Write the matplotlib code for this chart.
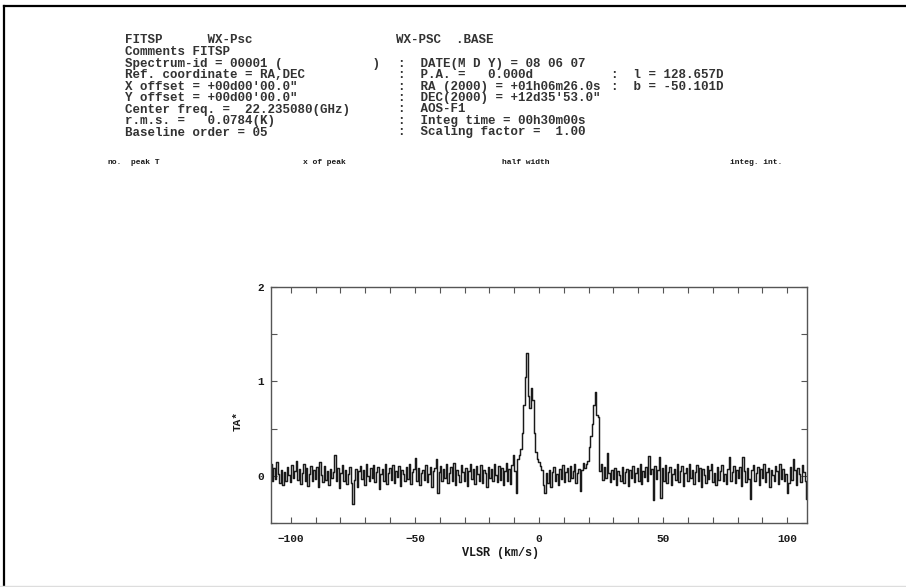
import matplotlib
matplotlib.use('Agg')
import matplotlib.pyplot as plt
import numpy as np
from matplotlib.ticker import MultipleLocator

# spectrum: velocity grid (km/s) and antenna temperature TA* (K)
v_start = -108.0
v_step = 0.6
ta = [
    0.12, -0.05, 0.08, -0.03, 0.15, 0.02, -0.08, 0.06, -0.10, 0.04,
    -0.06, 0.09, 0.01, -0.07, 0.11, -0.02, 0.05, 0.16, -0.04, 0.07,
    -0.09, 0.03, 0.12, -0.06, 0.08, -0.11, 0.02, 0.10, -0.05, 0.06,
    -0.03, 0.09, -0.12, 0.15, 0.01, -0.07, 0.10, -0.04, 0.05, -0.10,
    0.07, -0.02, 0.04, 0.22, -0.06, 0.08, -0.13, 0.03, 0.11, -0.05,
    0.06, -0.09, 0.02, 0.09, -0.08, -0.30, -0.04, 0.07, -0.12, 0.05,
    0.10, -0.03, 0.06, -0.10, 0.13, 0.00, -0.06, 0.08, -0.02, 0.11,
    -0.07, 0.04, 0.09, -0.14, 0.02, 0.07, -0.05, 0.12, -0.09, 0.03,
    0.08, -0.04, 0.11, -0.08, 0.05, -0.01, 0.10, -0.11, 0.06, 0.02,
    -0.06, 0.09, -0.03, 0.13, -0.09, 0.04, 0.07, 0.19, -0.05, 0.08,
    -0.10, 0.03, 0.06, -0.04, 0.11, -0.07, 0.02, 0.09, -0.12, 0.05,
    0.08, 0.18, -0.18, 0.04, 0.10, -0.06, 0.07, -0.02, 0.12, -0.08,
    0.03, 0.09, -0.05, 0.14, -0.10, 0.06, 0.01, -0.07, 0.11, 0.04,
    -0.06, 0.08, -0.11, 0.05, 0.12, -0.03, 0.07, -0.09, 0.10, 0.02,
    -0.05, 0.11, -0.08, 0.06, 0.03, -0.12, 0.09, -0.02, 0.07, -0.06,
    0.13, 0.01, -0.07, 0.10, -0.04, 0.08, -0.10, 0.05, 0.14, -0.06,
    0.07, -0.09, 0.11, 0.22, 0.05, -0.18, 0.18, 0.22, 0.28, 0.45,
    0.75, 1.05, 1.30, 0.85, 0.72, 0.93, 0.80, 0.45, 0.25, 0.18,
    0.15, 0.10, 0.06, -0.10, -0.18, 0.03, -0.08, 0.06, -0.12, 0.04,
    0.09, -0.05, 0.02, -0.10, 0.07, -0.03, 0.11, -0.07, 0.04, 0.08,
    -0.06, 0.10, -0.02, 0.05, 0.12, -0.08, 0.03, 0.07, -0.16, 0.06,
    0.14, 0.08, 0.12, 0.16, 0.30, 0.42, 0.55, 0.75, 0.89, 0.64,
    0.62, 0.05, 0.12, -0.04, 0.09, -0.02, 0.24, 0.03, -0.07, 0.06,
    -0.03, 0.08, -0.10, 0.05, 0.01, -0.06, 0.09, -0.08, 0.04, 0.07,
    -0.11, 0.06, -0.02, 0.10, -0.07, 0.03, 0.08, -0.05, 0.12, -0.09,
    0.05, -0.01, 0.09, -0.06, 0.21, 0.02, 0.07, -0.26, 0.10, -0.03,
    0.06, 0.20, -0.24, 0.08, -0.05, 0.11, -0.08, 0.04, 0.09, -0.10,
    0.02, 0.07, -0.04, 0.12, -0.07, 0.05, 0.10, -0.11, 0.03, 0.08,
    -0.06, 0.13, -0.02, 0.06, -0.09, 0.04, 0.11, -0.05, 0.08, -0.12,
    0.07, 0.01, -0.08, 0.10, -0.03, 0.06, 0.12, -0.07, 0.03, -0.10,
    0.09, -0.04, 0.05, 0.11, -0.06, 0.02, -0.09, 0.07, 0.20, -0.05,
    0.04, 0.10, -0.08, 0.06, -0.02, 0.09, -0.11, 0.20, 0.05, -0.07,
    0.08, -0.03, -0.25, 0.06, 0.11, -0.05, 0.03, 0.09, -0.10, 0.07,
    -0.02, 0.12, -0.07, 0.04, 0.08, -0.12, 0.06, 0.01, -0.06, 0.10,
    0.05, -0.09, 0.13, -0.03, 0.07, -0.06, 0.02, -0.18, -0.08, 0.09,
    -0.04, 0.18, 0.06, -0.10, 0.08, 0.02, -0.07, 0.11, 0.04, -0.05,
    -0.25,
]
vlsr = v_start + v_step * np.arange(len(ta))

x_ticks = [-100, -50, 0, 50, 100]
y_ticks = [0, 1, 2]

header_left = [
    "FITSP      WX-Psc",
    "Comments FITSP",
    "Spectrum-id = 00001 (            )",
    "Ref. coordinate = RA,DEC",
    "X offset = +00d00'00.0\"",
    "Y offset = +00d00'00.0\"",
    "Center freq. =  22.235080(GHz)",
    "r.m.s. =   0.0784(K)",
    "Baseline order = 05",
]
header_right = [
    "WX-PSC  .BASE",
    "",
    ":  DATE(M D Y) = 08 06 07",
    ":  P.A. =   0.000d",
    ":  RA (2000) = +01h06m26.0s",
    ":  DEC(2000) = +12d35'53.0\"",
    ":  AOS-F1",
    ":  Integ time = 00h30m00s",
    ":  Scaling factor =  1.00",
]
header_far = {3: ":  l = 128.657D", 4: ":  b = -50.101D"}
table_cols = [("no.", 108), ("peak T", 131), ("x of peak", 303),
              ("half width", 502), ("integ. int.", 730)]

W, H = 906, 587
fig = plt.figure(figsize=(W / 100, H / 100), dpi=100)
mono = 'Liberation Mono'
ink = '#1a1a1a'
head_ink = '#333333'


def px(x, y):
    return x / W, 1 - y / H


# page frame (scanned page edge)
fig.add_artist(plt.Line2D([3.5 / W, 3.5 / W], [0, 1 - 5.5 / H], transform=fig.transFigure,
                          color='black', lw=1.6))
fig.add_artist(plt.Line2D([3.5 / W, 1], [1 - 5.5 / H, 1 - 5.5 / H], transform=fig.transFigure,
                          color='black', lw=1.6))
fig.add_artist(plt.Line2D([0, 1], [1 - 585.5 / H, 1 - 585.5 / H], transform=fig.transFigure,
                          color='#dddddd', lw=1))

line_y = [40, 52, 63.5, 75, 86.5, 98, 109.5, 121, 132.5]
for s, y in zip(header_left, line_y):
    fig.text(*px(125, y), s, family=mono, fontsize=9, weight='bold', color=head_ink,
             va='center', ha='left')
for s, y in zip(header_right, line_y):
    if s:
        fig.text(*px(396 if s[0] != ':' else 398, y), s, family=mono, fontsize=9,
                 weight='bold', color=head_ink, va='center', ha='left')
for k, s in header_far.items():
    fig.text(*px(611, line_y[k]), s, family=mono, fontsize=9, weight='bold',
             color=head_ink, va='center', ha='left')
for s, x in table_cols:
    fig.text(*px(x, 163), s, family=mono, fontsize=5.8, weight='bold', color=ink,
             va='center', ha='left')

ax = fig.add_axes([271 / W, 1 - 523 / H, (807 - 271) / W, (523 - 287) / H])
ax.plot(vlsr, ta, drawstyle='steps-mid', color='#1a1a1a', lw=1.05)

ax.set_xlim(-108, 108)
ax.set_ylim(-0.5, 2)
ax.set_xticks(x_ticks)
ax.set_yticks(y_ticks)
ax.xaxis.set_minor_locator(MultipleLocator(10))
ax.yaxis.set_minor_locator(MultipleLocator(0.5))
ax.tick_params(which='both', direction='in', top=True, right=True, length=4,
               width=0.8, color='#555555', labelcolor=ink, labelsize=8)
ax.tick_params(axis='x', pad=8)
ax.tick_params(axis='y', pad=5)
for lab in ax.get_xticklabels() + ax.get_yticklabels():
    lab.set_family(mono)
    lab.set_weight('bold')
for sp in ax.spines.values():
    sp.set_color('#555555')
    sp.set_linewidth(1.0)

fig.text(*px(500, 553), "VLSR (km/s)", family=mono, fontsize=8.5, weight='bold',
         color=ink, ha='center', va='center')
fig.text(*px(238, 421), "TA*", family=mono, fontsize=8, weight='bold', color=ink,
         ha='center', va='center', rotation=90)

fig.savefig('out.png', dpi=100)
